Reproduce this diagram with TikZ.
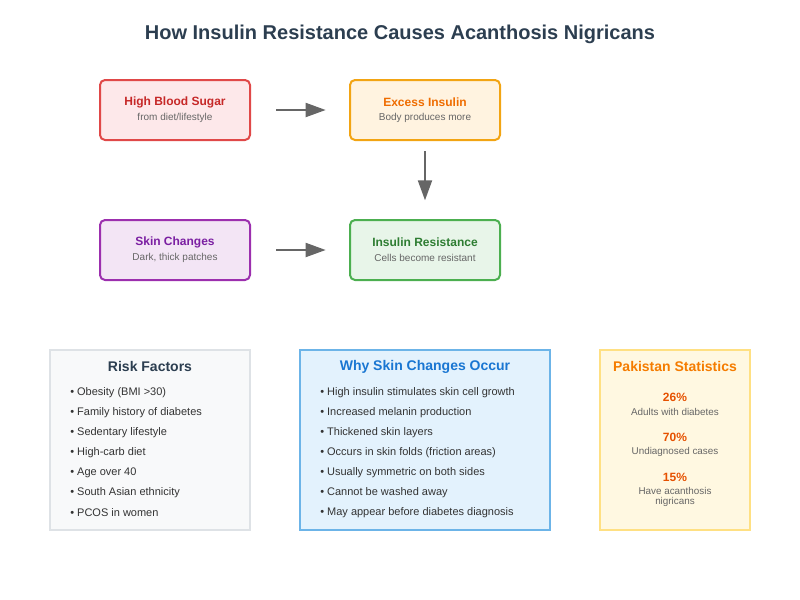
\documentclass[tikz,border=0pt]{standalone}
\usepackage{fontspec}
\setmainfont{Liberation Sans}
\usetikzlibrary{arrows.meta}
\definecolor{titlec}{HTML}{2C3E50}
\definecolor{redb}{HTML}{E04848}\definecolor{redf}{HTML}{FDE8EA}\definecolor{redt}{HTML}{C62828}
\definecolor{orgb}{HTML}{F2A413}\definecolor{orgf}{HTML}{FFF3E0}\definecolor{orgt}{HTML}{EF6C00}
\definecolor{purb}{HTML}{9C2FAE}\definecolor{purf}{HTML}{F3E5F5}\definecolor{purt}{HTML}{7B1FA2}
\definecolor{grnb}{HTML}{4CAF50}\definecolor{grnf}{HTML}{E8F5E9}\definecolor{grnt}{HTML}{2E7D32}
\definecolor{grayb}{HTML}{DEE2E6}\definecolor{grayf}{HTML}{F8F9FA}
\definecolor{blub}{HTML}{6CB4E8}\definecolor{bluf}{HTML}{E3F2FD}\definecolor{blut}{HTML}{1976D2}
\definecolor{yelb}{HTML}{FFE082}\definecolor{yelf}{HTML}{FFF8E1}\definecolor{yelt}{HTML}{F57C00}\definecolor{stat}{HTML}{E65100}
\definecolor{subc}{HTML}{666666}\definecolor{itemc}{HTML}{333333}\definecolor{arrc}{HTML}{666666}
\tikzset{
  flowbox/.style={draw, line width=1.5pt, rounded corners=3.75pt, minimum width=112.5pt, minimum height=45pt, inner sep=0pt},
  infobox/.style={draw, line width=1.5pt, minimum width=#1, minimum height=135pt, inner sep=0pt},
  boxtitle/.style={font=\fontsize{9}{10}\selectfont\bfseries, inner sep=0pt},
  boxsub/.style={font=\fontsize{7.5}{8}\selectfont, text=subc, inner sep=0pt},
  sectitle/.style={font=\fontsize{10.5}{12}\selectfont\bfseries, inner sep=0pt},
  item/.style={font=\fontsize{8.25}{10}\selectfont, text=itemc, anchor=west, inner sep=0pt},
  statnum/.style={font=\fontsize{9}{10}\selectfont\bfseries, text=stat, inner sep=0pt},
  statlbl/.style={font=\fontsize{7.4}{7.5}\selectfont, text=subc, inner sep=0pt, align=center},
  flowarrow/.style={draw=arrc, line width=1.5pt, -{Triangle[length=15pt,width=10.5pt]}}
}
\begin{document}
\begin{tikzpicture}[x=0.75pt,y=-0.75pt]
\useasboundingbox (0,0) rectangle (800,600);
\node[font=\fontsize{15}{18}\selectfont\bfseries, text=titlec, inner sep=0pt] (title) at (400,34.5) {How Insulin Resistance Causes Acanthosis Nigricans};
% flow boxes
\node[flowbox, draw=redb, fill=redf] (hbs) at (175,110) {};
\node[boxtitle, text=redt] (hbst) at (175,102.5) {High Blood Sugar};
\node[boxsub] (hbss) at (175,117.5) {from diet/lifestyle};
\node[flowbox, draw=orgb, fill=orgf] (ei) at (425,110) {};
\node[boxtitle, text=orgt] (eit) at (425,102.5) {Excess Insulin};
\node[boxsub] (eis) at (425,117.5) {Body produces more};
\node[flowbox, draw=purb, fill=purf] (sc) at (175,250) {};
\node[boxtitle, text=purt] (sct) at (175,242.5) {Skin Changes};
\node[boxsub] (scs) at (175,257.5) {Dark, thick patches};
\node[flowbox, draw=grnb, fill=grnf] (ir) at (425,250) {};
\node[boxtitle, text=grnt] (irt) at (425,242.5) {Insulin Resistance};
\node[boxsub] (irs) at (425,257.5) {Cells become resistant};
% arrows
\draw[flowarrow, shorten <=18.75pt, shorten >=17.5pt] (hbs.east) -- (ei.west);
\draw[flowarrow, shorten <=7.5pt, shorten >=14pt] (ei.south) -- (ir.north);
\draw[flowarrow, shorten <=18.75pt, shorten >=17.5pt] (sc.east) -- (ir.west);
% info boxes
\node[infobox=150pt, draw=grayb, fill=grayf] (rf) at (150,440) {};
\node[sectitle, text=titlec] (rft) at (150,366.5) {Risk Factors};
\node[item] (rf1) at (70,392.5) {• Obesity (BMI >30)};
\node[item] (rf2) at (70,412.5) {• Family history of diabetes};
\node[item] (rf3) at (70,432.5) {• Sedentary lifestyle};
\node[item] (rf4) at (70,452.5) {• High-carb diet};
\node[item] (rf5) at (70,472.5) {• Age over 40};
\node[item] (rf6) at (70,492.5) {• South Asian ethnicity};
\node[item] (rf7) at (70,512.5) {• PCOS in women};
\node[infobox=187.5pt, draw=blub, fill=bluf] (wy) at (425,440) {};
\node[sectitle, text=blut] (wyt) at (425,366.5) {Why Skin Changes Occur};
\node[item] (wy1) at (320,392.5) {• High insulin stimulates skin cell growth};
\node[item] (wy2) at (320,412.5) {• Increased melanin production};
\node[item] (wy3) at (320,432.5) {• Thickened skin layers};
\node[item] (wy4) at (320,452.5) {• Occurs in skin folds (friction areas)};
\node[item] (wy5) at (320,472.5) {• Usually symmetric on both sides};
\node[item] (wy6) at (320,492.5) {• Cannot be washed away};
\node[item] (wy7) at (320,512.5) {• May appear before diabetes diagnosis};
\node[infobox=112.5pt, draw=yelb, fill=yelf] (ps) at (675,440) {};
\node[sectitle, text=yelt] (pst) at (675,366.5) {Pakistan Statistics};
\node[statnum] (s1) at (675,397) {26\%};
\node[statlbl] (s1l) at (675,412) {Adults with diabetes};
\node[statnum] (s2) at (675,437) {70\%};
\node[statlbl] (s2l) at (675,452) {Undiagnosed cases};
\node[statnum] (s3) at (675,477) {15\%};
\node[statlbl] (s3l) at (675,497) {Have acanthosis\\nigricans};
\end{tikzpicture}
\end{document}
